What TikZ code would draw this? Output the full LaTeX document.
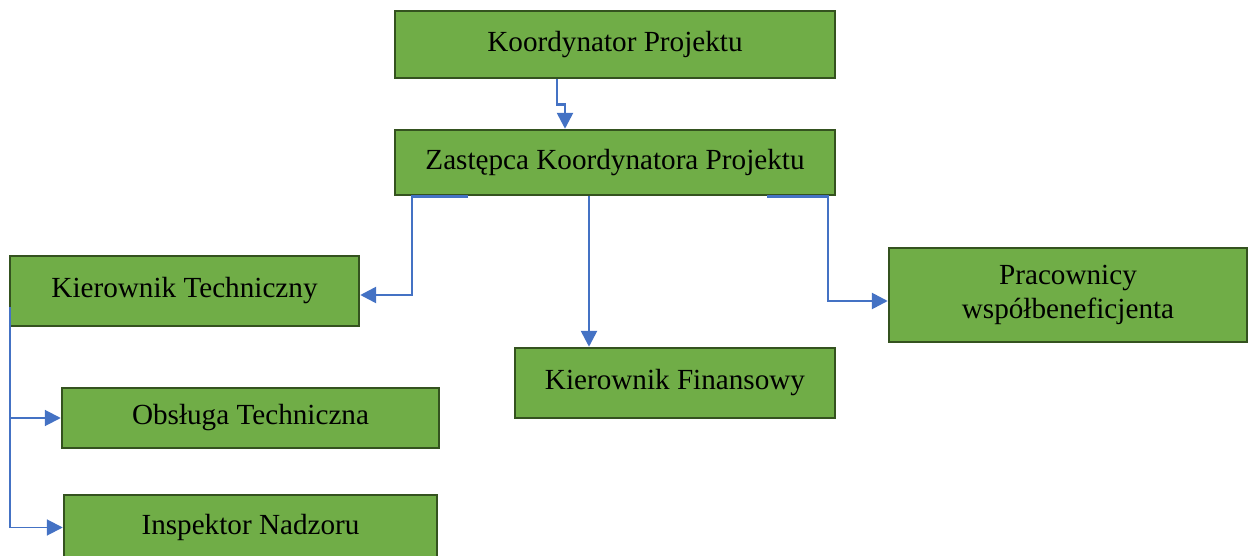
\documentclass[tikz,border=0pt]{standalone}
\usepackage{fontspec}
\setmainfont{Liberation Serif}
\usetikzlibrary{arrows.meta}
\definecolor{boxgreen}{HTML}{70AD47}
\definecolor{boxedge}{HTML}{34521F}
\definecolor{linkblue}{HTML}{4472C4}

\begin{document}
\begin{tikzpicture}[
  box/.style={draw=boxedge, line width=1.4pt, fill=boxgreen, inner sep=0pt,
    align=center, font=\fontsize{16.6}{19.5}\selectfont},
  conn/.style={draw=linkblue, line width=1.5pt, -{Triangle[length=9pt,width=9pt]}}
]
\useasboundingbox (0,0) rectangle (24.96,-11.12);
\node[box, minimum width=8.8cm, minimum height=1.34cm] (kp) at (12.3,-0.89) {Koordynator Projektu};
\node[box, minimum width=8.8cm, minimum height=1.3cm] (zkp) at (12.3,-3.25) {Zastępca Koordynatora Projektu};
\node[box, minimum width=6.98cm, minimum height=1.4cm] (kt) at (3.69,-5.82) {Kierownik Techniczny};
\node[box, minimum width=7.54cm, minimum height=1.2cm] (ot) at (5.01,-8.36) {Obsługa Techniczna};
\node[box, minimum width=7.46cm, minimum height=1.3cm] (ind) at (5.01,-10.55) {Inspektor Nadzoru};
\node[box, minimum width=6.4cm, minimum height=1.4cm] (kf) at (13.5,-7.66) {Kierownik Finansowy};
\node[box, minimum width=7.16cm, minimum height=1.88cm] (pw) at (21.36,-5.9) {Pracownicy\\współbeneficjenta};
% connectors
\draw[conn] ([xshift=-1.16cm]kp.south) -- ++(0,-0.5) -| ([xshift=-1cm]zkp.north);
\draw[conn] ([xshift=-2.94cm]zkp.south) -- ([xshift=-4.06cm]zkp.south) |- ([yshift=-0.08cm]kt.east);
\draw[conn] ([xshift=-0.52cm]zkp.south) -- ([xshift=-0.52cm]zkp.south |- kf.north);
\draw[conn] ([xshift=3.04cm]zkp.south) -- ([xshift=4.26cm]zkp.south) |- ([yshift=-0.12cm]pw.west);
\draw[conn, line width=1.1pt] ([xshift=0.02cm,yshift=-0.32cm]kt.west) |- (ot.west);
\draw[conn, line width=1.1pt] ([xshift=0.02cm,yshift=-0.32cm]kt.west) |- (ind.west);
\end{tikzpicture}
\end{document}
